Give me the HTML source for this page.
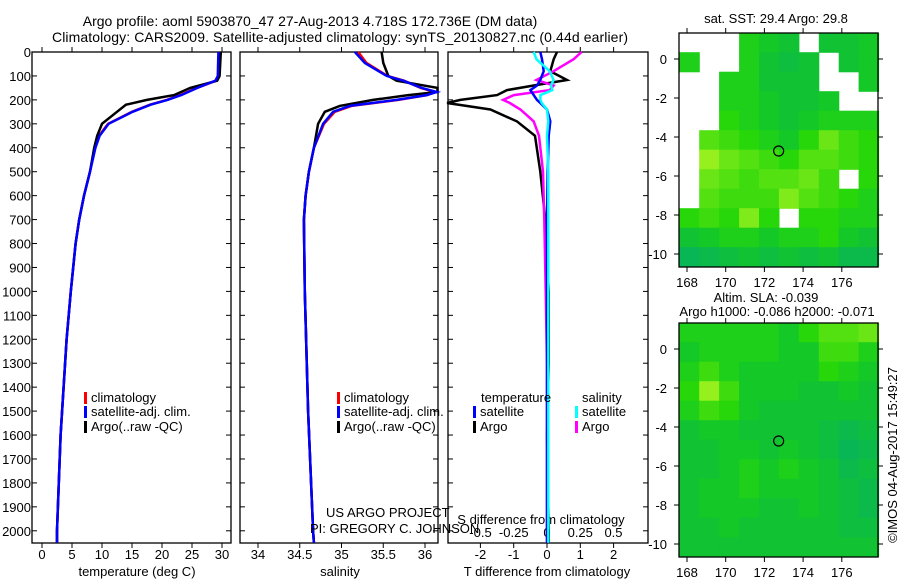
<!DOCTYPE html>
<html><head><meta charset="utf-8"><style>
body{margin:0;background:#fff}
svg{display:block;font-family:"Liberation Sans",sans-serif}
text{fill:#000}
</style></head><body>
<svg id="s" width="900" height="580" viewBox="0 0 900 580" xmlns="http://www.w3.org/2000/svg">
<text x="310" y="26" font-size="14" text-anchor="middle">Argo profile: aoml 5903870_47 27-Aug-2013 4.718S 172.736E (DM data)</text>
<text x="340" y="42" font-size="14" text-anchor="middle" textLength="576">Climatology: CARS2009. Satellite-adjusted climatology: synTS_20130827.nc (0.44d earlier)</text>
<g id="g"></g>
</svg>
<script>
// ---------- data ----------
const depthT = [0,100,120,150,180,200,220,250,300,350,400,500,600,700,800,900,1000,1200,1400,1600,1800,2000,2050];
const argoT  = [29.8,29.6,29.2,24.7,22,17.5,14,12.5,10,9.2,8.7,8.0,7.0,6.2,5.6,5.2,4.8,4.1,3.6,3.1,2.8,2.5,2.5];
const climT  = [29.6,29.4,29.0,25.8,23,20.8,18,15,11,9.5,8.8,8.0,7.0,6.2,5.6,5.2,4.8,4.1,3.6,3.1,2.8,2.5,2.5];
const satT   = [29.4,29.3,28.9,25.9,23.2,20.9,18.1,15.1,11.1,9.6,8.9,8.0,7.0,6.2,5.6,5.2,4.8,4.1,3.6,3.1,2.8,2.5,2.5];
const depthS = [0,46,100,120,150,167,180,200,225,250,300,400,500,600,700,1000,1500,2000,2050];
const argoS  = [35.48,35.5,35.56,35.66,36.15,36.15,35.8,35.38,34.98,34.8,34.72,34.67,34.61,34.57,34.55,34.56,34.6,34.66,34.67];
const climS  = [35.2,35.3,35.55,35.75,35.95,36.12,36.02,35.68,35.12,34.92,34.79,34.67,34.61,34.57,34.55,34.56,34.6,34.66,34.67];
const satS   = [35.16,35.28,35.54,35.74,35.96,36.14,36.02,35.66,35.1,34.9,34.78,34.67,34.61,34.57,34.55,34.56,34.6,34.66,34.67];
const depthD = [0,30,80,117,140,159,180,200,213,240,290,350,500,700,1000,1300,1600,2000,2050];
const argoDT = [0.3,0.2,0.1,0.6,-0.4,-1.2,-1.5,-2.6,-3,-1.7,-0.9,-0.36,-0.2,-0.05,0.05,0.05,0,0.05,0.05];
const satDT  = [-0.2,-0.15,-0.1,-0.2,-0.3,-0.5,-0.4,-0.3,-0.2,0,0.1,0.05,0.02,0,0,0,0,0,0];
const argoDS = [0.26,0.2,0.05,-0.08,0.05,0.02,-0.25,-0.33,-0.28,-0.2,-0.1,-0.06,-0.03,-0.02,-0.01,0,0,0,0];
const satDS  = [-0.1,-0.08,0.02,0.05,0.03,0.04,-0.05,-0.05,-0.04,0,0.01,0,0.01,0.01,0.01,0.01,0.01,0.01,0.01];
const depthTicks = [0,100,200,300,400,500,600,700,800,900,1000,1100,1200,1300,1400,1500,1600,1700,1800,1900,2000];
const tTicks = [0,5,10,15,20,25,30];
const sTicks = [34,34.5,35,35.5,36];
const dtTicks = [-2,-1,0,1,2];
const dsTickLabels = ["-0.5","-0.25","0","0.25","0.5"];
const dsTicks = [-0.5,-0.25,0,0.25,0.5];
const lonTicks = [168,170,172,174,176];
const latTicks = [0,-2,-4,-6,-8,-10];
const sstGrid = [
[-1,-1,-1,0.4,0.35,0.3,-1,0.3,0.3,0.35],
[0.4,-1,-1,0.4,0.3,0.25,0.3,-1,0.3,0.35],
[-1,-1,0.4,0.4,0.3,0.3,0.3,-1,-1,0.35],
[-1,-1,0.4,0.4,0.35,0.3,0.3,0.35,-1,-1],
[-1,-1,0.45,0.4,0.35,0.3,0.35,0.4,0.4,0.4],
[-1,0.55,0.5,0.45,0.4,0.35,0.45,0.6,0.5,0.45],
[-1,0.7,0.6,0.55,0.5,0.45,0.55,0.55,0.5,0.45],
[-1,0.6,0.55,0.5,0.55,0.55,0.6,0.5,-1,0.45],
[-1,0.55,0.5,0.5,0.5,0.65,0.55,0.5,0.45,0.4],
[0.45,0.5,0.45,0.65,0.45,-1,0.45,0.45,0.4,0.4],
[0.3,0.35,0.4,0.4,0.35,0.4,0.4,0.45,0.35,0.3],
[0.15,0.2,0.25,0.3,0.25,0.3,0.25,0.3,0.2,0.2]];
const slaGrid = [
[0.4,0.4,0.4,0.4,0.4,0.35,0.45,0.55,0.55,0.6],
[0.35,0.4,0.4,0.4,0.4,0.35,0.35,0.5,0.5,0.4],
[0.4,0.5,0.4,0.35,0.35,0.35,0.35,0.45,0.4,0.35],
[0.45,0.7,0.5,0.35,0.35,0.35,0.3,0.3,0.35,0.3],
[0.4,0.5,0.45,0.35,0.3,0.3,0.3,0.3,0.3,0.3],
[0.3,0.35,0.35,0.3,0.3,0.3,0.3,0.25,0.2,0.25],
[0.3,0.3,0.35,0.35,0.3,0.35,0.3,0.25,0.15,0.2],
[0.3,0.3,0.35,0.4,0.35,0.4,0.35,0.3,0.2,0.25],
[0.3,0.35,0.35,0.4,0.35,0.35,0.35,0.3,0.25,0.2],
[0.3,0.35,0.35,0.35,0.3,0.3,0.35,0.3,0.25,0.2],
[0.3,0.3,0.35,0.3,0.3,0.3,0.3,0.3,0.25,0.25],
[0.3,0.3,0.3,0.3,0.3,0.3,0.3,0.3,0.3,0.3]];
const floatLon = 172.736, floatLat = -4.718;

// ---------- drawing ----------
const NS="http://www.w3.org/2000/svg", G=document.getElementById('g');
function el(tag,attrs,parent){const e=document.createElementNS(NS,tag);for(const k in attrs)e.setAttribute(k,attrs[k]);(parent||G).appendChild(e);return e;}
function txt(x,y,s,anchor,size,parent){const t=el('text',{x:x,y:y,'font-size':size||13,'text-anchor':anchor||'middle'},parent);t.textContent=s;return t;}
const TOP=52, BOT=543;
const yD = d => TOP + d*0.2394;
function line(xs,ds,fx,color,name,w){
  const p=xs.map((v,i)=>(i?'L':'M')+fx(v).toFixed(1)+','+yD(ds[i]).toFixed(1)).join('');
  const e=el('path',{d:p,fill:'none',stroke:color,'stroke-width':w||2.5});
  
  
}
function frame(x0,x1,name,yLabels){
  const f=el('rect',{x:x0,y:TOP,width:x1-x0,height:BOT-TOP,fill:'none',stroke:'#000','stroke-width':1.3});
  
  
  depthTicks.forEach(d=>{
    el('line',{x1:x0,x2:x0+5,y1:yD(d),y2:yD(d),stroke:'#000'});
    el('line',{x1:x1-5,x2:x1,y1:yD(d),y2:yD(d),stroke:'#000'});
    if(yLabels){const t=txt(31,yD(d)+5,String(d),'end',13);}
  });
}
function xticks(vals,fx,labels,name){
  vals.forEach((v,i)=>{
    const x=fx(v);
    el('line',{x1:x,x2:x,y1:BOT,y2:BOT+5,stroke:'#000'});
    el('line',{x1:x,x2:x,y1:TOP,y2:TOP-5,stroke:'#000'});
    const t=txt(x,559,labels?labels[i]:String(v),'middle',13);
    
    
  });
}
// Panel 1 temperature
const xT = v => 42 + v*6;
frame(32,231,'temperature-panel',true);
xticks(tTicks,xT,null,'temperature-tick-label');
line(climT,depthT,xT,'#ff0000','climatology-temperature-line');
line(argoT,depthT,xT,'#000','argo-temperature-line');
line(satT,depthT,xT,'#0000ff','satellite-temperature-line');
txt(137,576,'temperature (deg C)','middle',13);
// Panel 2 salinity
const xS = v => 258 + (v-34)*83.5;
frame(240,438,'salinity-panel',false);
xticks(sTicks,xS,null,'salinity-tick-label');
line(climS,depthS,xS,'#ff0000','climatology-salinity-line');
line(argoS,depthS,xS,'#000','argo-salinity-line');
line(satS,depthS,xS,'#0000ff','satellite-salinity-line');
txt(340,576,'salinity','middle',13);
// Panel 3 differences
const xDT = v => 547 + v*33.3;
const xDS = v => 547 + v*133;
frame(448,648,'difference-panel',false);
xticks(dtTicks,xDT,null,'t-difference-tick-label');
dsTicks.forEach((v,i)=>{const t=txt(xDS(v),537,dsTickLabels[i],'middle',13);});
txt(541,524,'S difference from climatology','middle',13);
txt(547,576,'T difference from climatology','middle',13);
line(argoDT,depthD,xDT,'#000','argo-t-difference-line');
line(argoDS,depthD,xDS,'#ff00ff','argo-s-difference-line');
line(satDT,depthD,xDT,'#0000ff','satellite-t-difference-line');
line(satDS,depthD,xDS,'#00ffff','satellite-s-difference-line');
// legends
function leg(x,y,color,label,name){
  el('rect',{x:x,y:y-10,width:3,height:12,fill:color});
  const t=txt(x+7,y,label,'start',13);
  
  
}
leg(84,402,'#ff0000','climatology','legend-climatology');
leg(84,416,'#0000ff','satellite-adj. clim.','legend-satellite');
leg(84,431,'#000','Argo(..raw -QC)','legend-argo');
leg(337,402,'#ff0000','climatology','legend-climatology-2');
leg(337,416,'#0000ff','satellite-adj. clim.','legend-satellite-2');
leg(337,431,'#000','Argo(..raw -QC)','legend-argo-2');
txt(481,402,'temperature','start',13);
txt(582,402,'salinity','start',13);
leg(473,416,'#0000ff','satellite','legend-t-satellite');
leg(473,431,'#000','Argo','legend-t-argo');
leg(575,416,'#00ffff','satellite','legend-s-satellite');
leg(575,431,'#ff00ff','Argo','legend-s-argo');
txt(326,517,'US ARGO PROJECT','start',13);
txt(310,533,'PI: GREGORY C. JOHNSON','start',13);

// ---------- maps ----------
function col(v){
  const stops=[[0,[0,168,120]],[0.35,[20,200,40]],[0.45,[40,215,10]],[0.7,[150,240,30]]];
  if(v<=0)return 'rgb(0,168,120)';
  for(let i=1;i<stops.length;i++){if(v<=stops[i][0]){const a=stops[i-1],b=stops[i],t=(v-a[0])/(b[0]-a[0]);return 'rgb('+a[1].map((c,k)=>Math.round(c+(b[1][k]-c)*t)).join(',')+')';}}
  return 'rgb(150,240,30)';
}
function map(y0,grid,name){
  const X0=679,X1=878,Y1=y0+234;
  const lx = lon => 687 + (lon-168)*19.35;
  const ly = lat => (y0+26) + (-lat)*19.5;
  const lon0=167.6, lat0=1.35;
  grid.forEach((row,r)=>row.forEach((v,c)=>{
    if(v<0)return;
    const x=lx(lon0+c*1.03), y=ly(lat0-r);
    const cell=el('rect',{x:x.toFixed(1),y:y.toFixed(1),width:(19.35*1.03+0.6).toFixed(1),height:20.1,fill:col(v)});
    
    
  }));
  const f=el('rect',{x:X0,y:y0,width:X1-X0,height:Y1-y0,fill:'none',stroke:'#000','stroke-width':1.3});
  
  
  lonTicks.forEach(l=>{
    el('line',{x1:lx(l),x2:lx(l),y1:Y1,y2:Y1+5,stroke:'#000'});
    el('line',{x1:lx(l),x2:lx(l),y1:y0,y2:y0-5,stroke:'#000'});
    const t=txt(lx(l),Y1+20,String(l),'middle',13);
    
    
  });
  latTicks.forEach(l=>{
    el('line',{x1:X0-5,x2:X0,y1:ly(l),y2:ly(l),stroke:'#000'});
    el('line',{x1:X1,x2:X1+5,y1:ly(l),y2:ly(l),stroke:'#000'});
    const t=txt(X0-12,ly(l)+5,String(l),'end',13);
    
    
  });
  const m=el('circle',{cx:lx(floatLon),cy:ly(floatLat),r:5,fill:'none',stroke:'#000','stroke-width':1.2});
  
  
}
map(33,sstGrid,'sst-map');
map(323,slaGrid,'sla-map');
txt(776,23,'sat. SST: 29.4 Argo: 29.8','middle',13);
txt(766,302,'Altim. SLA: -0.039','middle',13);
txt(777,316,'Argo h1000: -0.086 h2000: -0.071','middle',13);
const cr=txt(0,0,'©IMOS 04-Aug-2017 15:49:27','middle',13);
cr.setAttribute('transform','translate(897,455) rotate(-90)');


</script>
</body></html>
